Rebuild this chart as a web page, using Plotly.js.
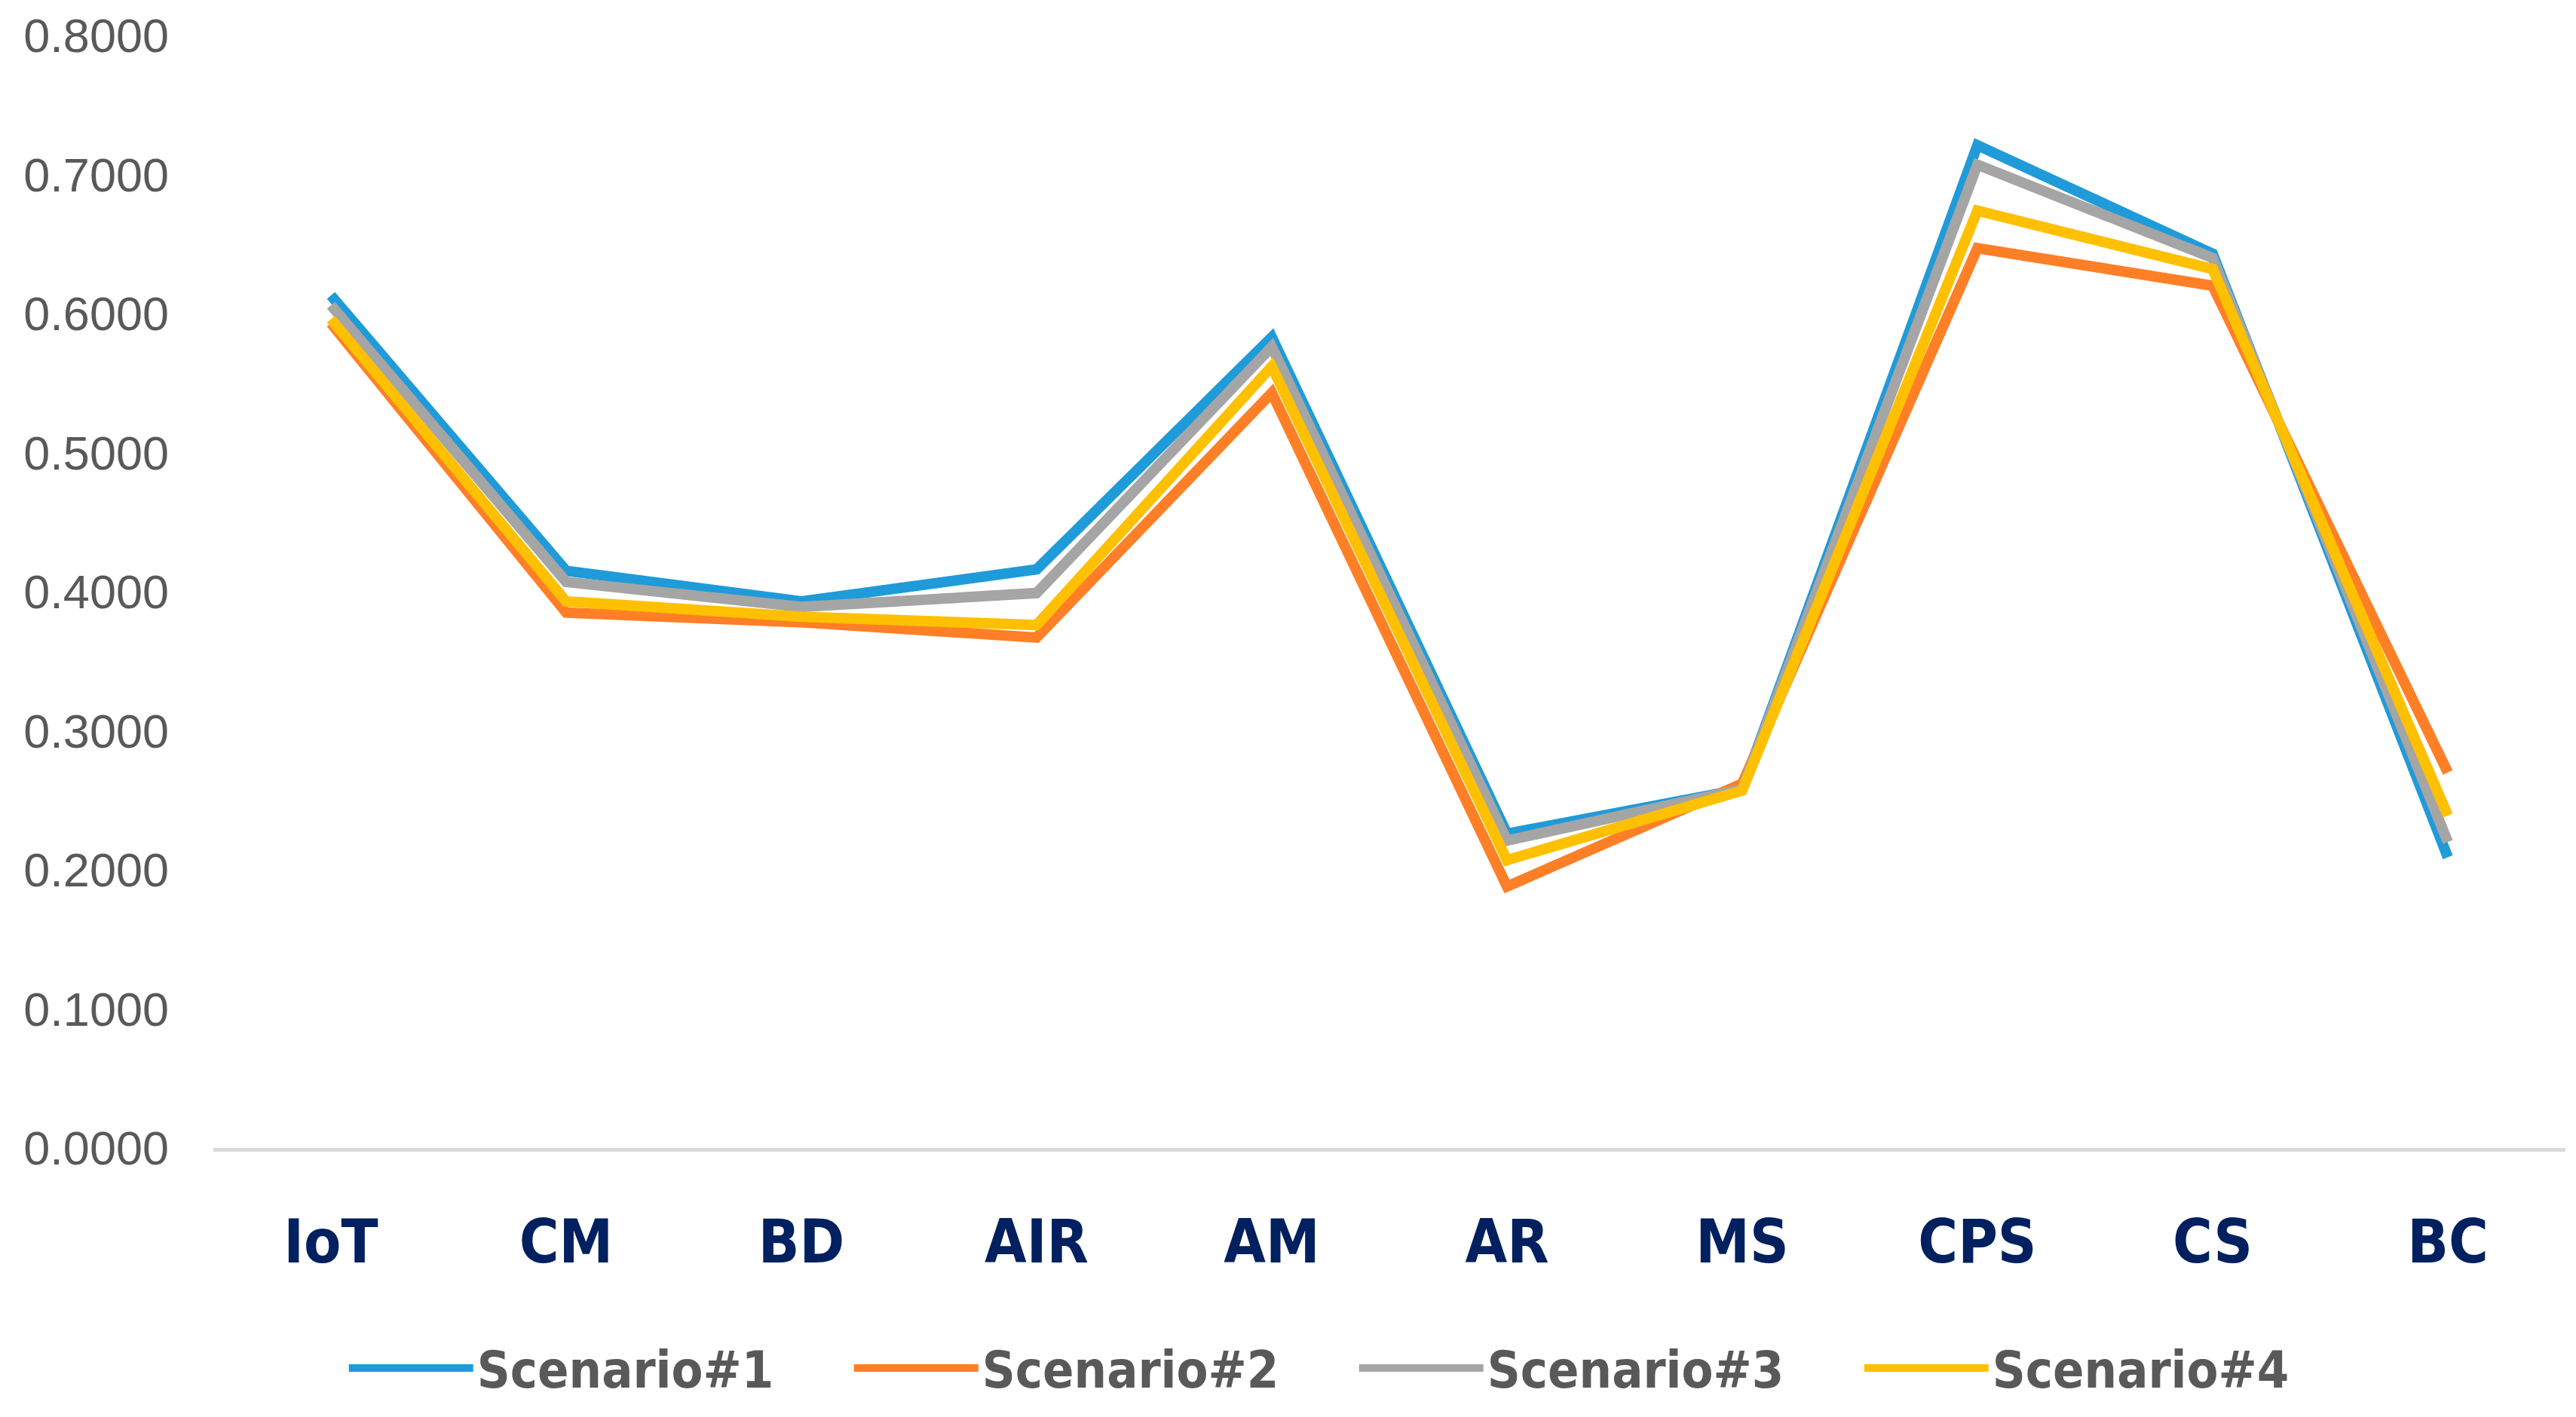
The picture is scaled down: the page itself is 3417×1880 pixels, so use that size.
<!DOCTYPE html>
<html>
<head>
<meta charset="utf-8">
<script src="https://cdn.plot.ly/plotly-3.0.1.min.js"></script>
<style>
  html, body { margin: 0; padding: 0; background: #ffffff; }
  #chart { width: 3417px; height: 1880px; }
</style>
</head>
<body>
<div id="chart"></div>
<script>
const categories = ['IoT', 'CM', 'BD', 'AIR', 'AM', 'AR', 'MS', 'CPS', 'CS', 'BC'];
const seriesNames = ['Scenario#1', 'Scenario#2', 'Scenario#3', 'Scenario#4'];
const scenario1 = [0.613, 0.415, 0.393, 0.416, 0.583, 0.226, 0.258, 0.721, 0.643, 0.209];
const scenario2 = [0.593, 0.385, 0.378, 0.367, 0.543, 0.188, 0.262, 0.647, 0.620, 0.270];
const scenario3 = [0.606, 0.407, 0.389, 0.399, 0.576, 0.221, 0.258, 0.707, 0.640, 0.220];
const scenario4 = [0.596, 0.393, 0.382, 0.376, 0.562, 0.207, 0.257, 0.674, 0.632, 0.239];
const yTickValues = [0, 0.1, 0.2, 0.3, 0.4, 0.5, 0.6, 0.7, 0.8];

const colors = ['#1F9BD9', '#FF7F27', '#A5A5A5', '#FFC000'];
const allSeries = [scenario1, scenario2, scenario3, scenario4];
const condensed = '"DejaVu Sans Condensed", "Liberation Sans Narrow", "Liberation Sans", Arial, sans-serif';

const traces = allSeries.map((vals, i) => ({
  type: 'scatter',
  mode: 'lines',
  x: categories,
  y: vals,
  name: seriesNames[i],
  line: { color: colors[i], width: 14, shape: 'linear' },
  hoverinfo: 'skip'
}));

const layout = {
  width: 3417,
  height: 1880,
  paper_bgcolor: '#ffffff',
  plot_bgcolor: '#ffffff',
  margin: { l: 283, r: 14, t: 47, b: 357, autoexpand: false },
  showlegend: true,
  legend: {
    orientation: 'h',
    x: 0.4855,
    xanchor: 'center',
    y: -0.198,
    yanchor: 'middle',
    itemwidth: 165,
    entrywidth: 490,
    entrywidthmode: 'pixels',
    font: { family: condensed, size: 68, color: '#595959', weight: 'bold', stretch: 'condensed' },
    itemclick: false,
    itemdoubleclick: false
  },
  xaxis: {
    type: 'category',
    categoryorder: 'array',
    categoryarray: categories,
    range: [-0.5, 9.5],
    showgrid: false,
    zeroline: false,
    showline: true,
    linecolor: '#D9D9D9',
    linewidth: 5,
    ticks: '',
    ticklabelstandoff: 51,
    tickfont: { family: condensed, size: 80, color: '#002060', weight: 'bold', stretch: 'condensed' },
    fixedrange: true
  },
  yaxis: {
    range: [0, 0.8],
    tickvals: yTickValues,
    tickformat: '.4f',
    showgrid: false,
    zeroline: false,
    showline: false,
    ticks: '',
    ticklabelstandoff: 58,
    tickfont: { family: '"Liberation Sans", Arial, sans-serif', size: 63, color: '#595959' },
    fixedrange: true
  }
};

Plotly.newPlot('chart', traces, layout, { staticPlot: true, displayModeBar: false });
</script>
</body>
</html>
